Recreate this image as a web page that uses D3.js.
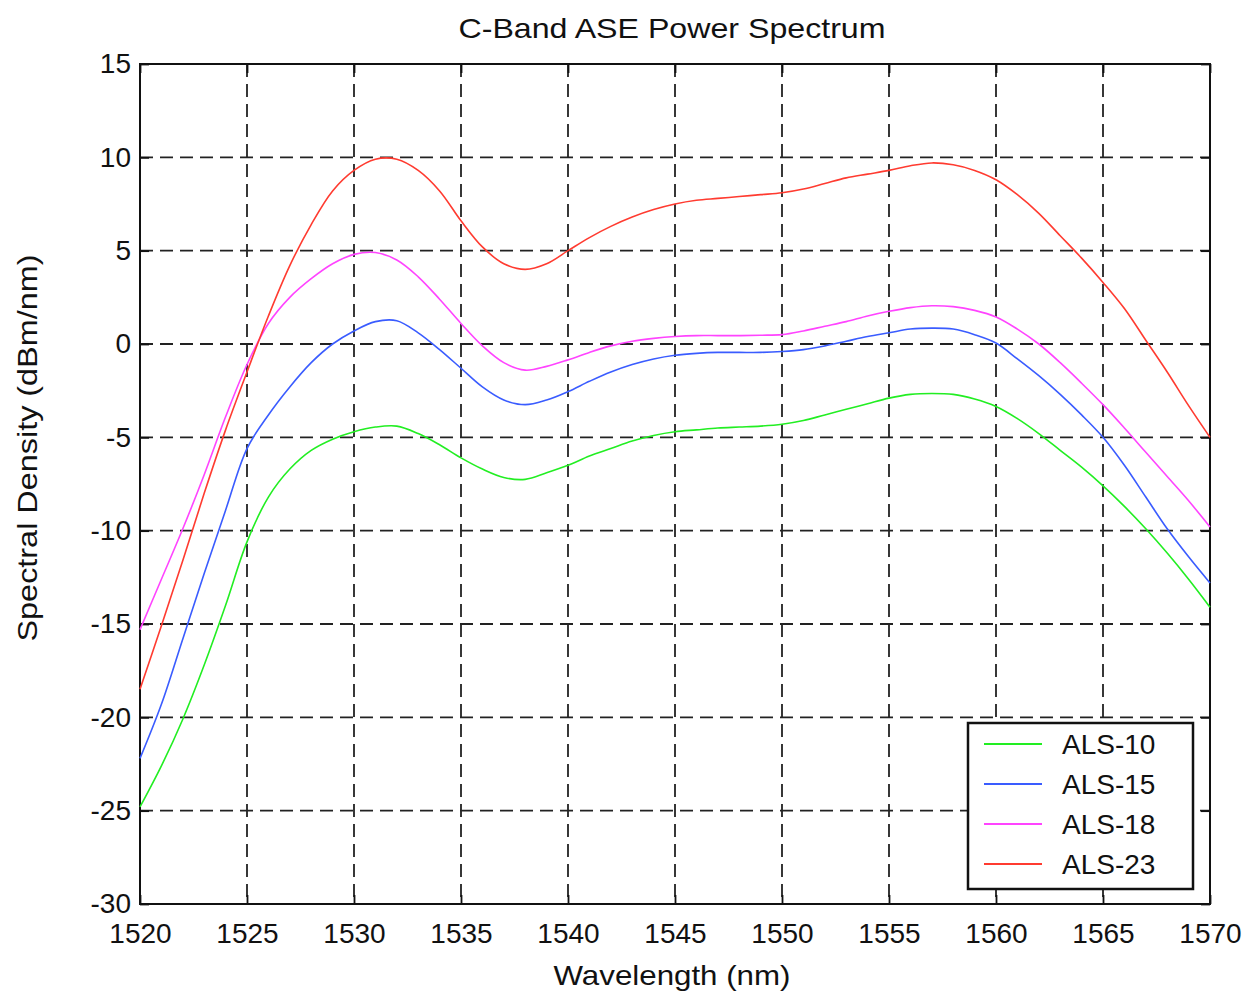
<!DOCTYPE html>
<html>
<head>
<meta charset="utf-8">
<script src="https://cdn.jsdelivr.net/npm/d3@7"></script>
<style>
    body { margin: 0; background: #fff; }
    text { font-family: "Liberation Sans", Arial, sans-serif; fill: #111; }
</style>
</head>
<body>
<svg id="chart" width="1257" height="992"></svg>
<script>
// wavelength grid (nm), one reading per nm
var wavelengths = d3.range(1520, 1571);

var als10 = [-24.8, -22.6, -20.1, -17.2, -14.0, -10.6, -8.2, -6.7, -5.7, -5.1,
    -4.7, -4.45, -4.4, -4.8, -5.4, -6.1, -6.7, -7.15, -7.25, -6.9,
    -6.5, -6.0, -5.6, -5.2, -4.9, -4.7, -4.6, -4.5, -4.45, -4.4,
    -4.3, -4.1, -3.8, -3.5, -3.2, -2.9, -2.7, -2.65, -2.7, -2.95,
    -3.35, -4.0, -4.8, -5.7, -6.6, -7.6, -8.7, -9.9, -11.2, -12.6, -14.1];

var als15 = [-22.2, -19.3, -15.8, -12.3, -8.9, -5.6, -3.8, -2.3, -1.0, 0.0,
    0.7, 1.2, 1.25, 0.6, -0.3, -1.3, -2.3, -3.0, -3.25, -3.0,
    -2.55, -2.0, -1.5, -1.1, -0.8, -0.6, -0.5, -0.45, -0.45, -0.45,
    -0.4, -0.3, -0.1, 0.15, 0.4, 0.6, 0.8, 0.85, 0.8, 0.5,
    0.05, -0.8, -1.7, -2.7, -3.8, -5.0, -6.5, -8.2, -9.9, -11.4, -12.8];

var als18 = [-15.3, -12.6, -9.9, -7.0, -3.9, -1.1, 1.1, 2.5, 3.5, 4.3,
    4.8, 4.9, 4.5, 3.6, 2.4, 1.1, -0.1, -1.0, -1.4, -1.2,
    -0.85, -0.45, -0.1, 0.15, 0.3, 0.4, 0.45, 0.45, 0.45, 0.47,
    0.5, 0.7, 0.95, 1.2, 1.5, 1.75, 1.95, 2.05, 2.0, 1.8,
    1.45, 0.8, 0.0, -1.0, -2.1, -3.25, -4.5, -5.8, -7.1, -8.4, -9.8];

var als23 = [-18.5, -15.1, -11.6, -8.0, -4.6, -1.5, 1.5, 4.2, 6.4, 8.2,
    9.3, 9.9, 9.9, 9.3, 8.2, 6.6, 5.2, 4.3, 4.0, 4.3,
    5.0, 5.7, 6.3, 6.8, 7.2, 7.5, 7.7, 7.8, 7.9, 8.0,
    8.1, 8.3, 8.6, 8.9, 9.1, 9.3, 9.55, 9.7, 9.6, 9.3,
    8.8, 8.0, 7.0, 5.8, 4.6, 3.3, 1.9, 0.2, -1.5, -3.3, -5.0];

var seriesNames = ["ALS-10", "ALS-15", "ALS-18", "ALS-23"];
var seriesColors = ["#22ee22", "#3a5cff", "#ff44ff", "#ff3b30"];
var xTicks = d3.range(1520, 1571, 5);
var yTicks = d3.range(-30, 16, 5);

var svg = d3.select("#chart");
var margin = {top: 64, right: 47, bottom: 88, left: 140};
var width = 1257 - margin.left - margin.right;
var height = 992 - margin.top - margin.bottom;

var x = d3.scaleLinear().domain([1520, 1570]).range([0, width]);
var y = d3.scaleLinear().domain([-30, 15]).range([height, 0]);

// plain hyphen for negatives, like the original plot
var plain = function (d) { return String(d); };

var g = svg.append("g").attr("transform", "translate(" + margin.left + "," + margin.top + ")");

// dashed grid
g.append("g").selectAll("line").data(xTicks.slice(1, -1)).enter().append("line")
    .attr("x1", function (d) { return x(d); }).attr("x2", function (d) { return x(d); })
    .attr("y1", 0).attr("y2", height)
    .attr("stroke", "#222").attr("stroke-width", 1.8).attr("stroke-dasharray", "13,7");
g.append("g").selectAll("line").data(yTicks.slice(1, -1)).enter().append("line")
    .attr("y1", function (d) { return y(d); }).attr("y2", function (d) { return y(d); })
    .attr("x1", 0).attr("x2", width)
    .attr("stroke", "#222").attr("stroke-width", 1.8).attr("stroke-dasharray", "13,7");

// axes with inward ticks on all four sides
var axisStyle = function (sel) {
    sel.select(".domain").remove();
    sel.selectAll(".tick line").attr("stroke", "#111").attr("stroke-width", 1.8);
    sel.selectAll(".tick text").style("font-size", "28px").attr("fill", "#111");
};
g.append("g").attr("transform", "translate(0," + height + ")")
    .call(d3.axisBottom(x).tickValues(xTicks).tickSize(-9).tickPadding(19).tickFormat(plain))
    .call(axisStyle);
g.append("g")
    .call(d3.axisLeft(y).tickValues(yTicks).tickSize(-9).tickPadding(9).tickFormat(plain))
    .call(axisStyle);
g.append("g")
    .call(d3.axisTop(x).tickValues(xTicks).tickSize(-9).tickFormat(""))
    .call(axisStyle);
g.append("g").attr("transform", "translate(" + width + ",0)")
    .call(d3.axisRight(y).tickValues(yTicks).tickSize(-9).tickFormat(""))
    .call(axisStyle);

g.append("rect").attr("width", width).attr("height", height)
    .attr("fill", "none").attr("stroke", "#111").attr("stroke-width", 2);

// spectra
var allSeries = [als10, als15, als18, als23];
var line = d3.line()
    .x(function (d, i) { return x(wavelengths[i]); })
    .y(function (d) { return y(d); })
    .curve(d3.curveCatmullRom);
g.append("g").selectAll("path").data(allSeries).enter().append("path")
    .attr("d", line)
    .attr("fill", "none")
    .attr("stroke", function (d, i) { return seriesColors[i]; })
    .attr("stroke-width", 1.6);

// titles
svg.append("text").attr("x", 672).attr("y", 38).attr("text-anchor", "middle")
    .style("font-size", "28px").attr("textLength", 427).attr("lengthAdjust", "spacingAndGlyphs")
    .text("C-Band ASE Power Spectrum");
svg.append("text").attr("x", 672).attr("y", 985).attr("text-anchor", "middle")
    .style("font-size", "28px").attr("textLength", 237).attr("lengthAdjust", "spacingAndGlyphs")
    .text("Wavelength (nm)");
svg.append("text").attr("transform", "translate(37,448) rotate(-90)").attr("text-anchor", "middle")
    .style("font-size", "28px").attr("textLength", 387).attr("lengthAdjust", "spacingAndGlyphs")
    .text("Spectral Density (dBm/nm)");

// legend box, lower right
var legend = svg.append("g").attr("transform", "translate(968,723)");
legend.append("rect").attr("width", 225).attr("height", 166)
    .attr("fill", "#fff").attr("stroke", "#111").attr("stroke-width", 2.5);
var items = legend.selectAll("g.item").data(seriesNames).enter().append("g")
    .attr("class", "item")
    .attr("transform", function (d, i) { return "translate(0," + (21 + i * 40) + ")"; });
items.append("line").attr("x1", 16).attr("x2", 74)
    .attr("stroke", function (d, i) { return seriesColors[i]; }).attr("stroke-width", 2);
items.append("text").attr("x", 94).attr("dy", "0.35em").style("font-size", "28px").text(function (d) { return d; });
</script>
</body>
</html>
